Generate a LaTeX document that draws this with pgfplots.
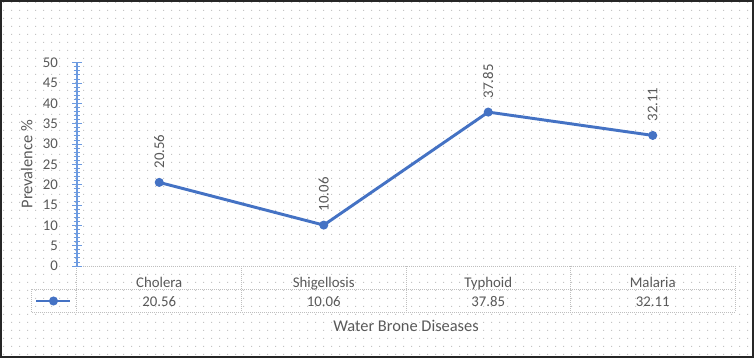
\documentclass[border=0pt]{standalone}
\usepackage{fontspec}
\setmainfont{Carlito}
\usepackage{pgfplots}
\pgfplotsset{compat=1.18}
\usepackage{pgfplotstable}
\usetikzlibrary{patterns.meta}
\definecolor{lineblue}{HTML}{4472C4}
\definecolor{axisblue}{HTML}{6C9AE0}
\definecolor{txtgray}{HTML}{595959}
\definecolor{gridgray}{HTML}{BFBFBF}
\definecolor{dotgray}{HTML}{C4C4C4}
\pgfdeclarepattern{name=exceldots, type=uncolored, bottom left={\pgfpointorigin}, top right={\pgfpoint{5.7pt}{5.7pt}}, tile size={\pgfpoint{5.7pt}{5.7pt}}, code={\pgfpathrectangle{\pgfpoint{2.4pt}{2.4pt}}{\pgfpoint{0.8pt}{0.8pt}}\pgfusepath{fill}}}
\newcommand{\tfont}{\fontsize{11.1}{13}\selectfont}
\newcommand{\lfont}{\fontsize{12.3}{14}\selectfont}
\pgfplotstableread{
x y
0 20.56
1 10.06
2 37.85
3 32.11
}\prevdata
\begin{document}
\begin{tikzpicture}
\path[use as bounding box] (-57.75pt,-69pt) rectangle (507.75pt,199.5pt);
\fill[white] (-57.75pt,-69pt) rectangle (507.75pt,199.5pt);
\fill[pattern=exceldots, pattern color=dotgray] (-57.75pt,-69pt) rectangle (507.75pt,199.5pt);
\begin{scope}[gridgray, line width=0.75pt, dash pattern=on 0.75pt off 0.75pt]
\draw (0pt,0pt) -- (493.5pt,0pt);
\draw (-33.75pt,-17.25pt) -- (493.5pt,-17.25pt);
\draw (-33.75pt,-34.5pt) -- (493.5pt,-34.5pt);
\foreach \x in {0,123.375,246.75,370.125,493.5} \draw (\x pt,0pt) -- (\x pt,-34.5pt);
\draw (-33.75pt,-17.25pt) -- (-33.75pt,-34.5pt);
\end{scope}
\begin{axis}[at={(0pt,0pt)}, anchor=south west, scale only axis,
  width=493.5pt, height=152.5pt,
  xmin=-0.5, xmax=3.5, ymin=0, ymax=50, clip=false,
  axis x line=bottom, axis y line=left,
  axis line style={-},
  x axis line style={draw=none},
  y axis line style={draw=axisblue, line width=0.9pt},
  ytick={0,5,...,50}, minor y tick num=4,
  tick align=center, major tick length=7pt, minor tick length=5pt,
  ytick style={axisblue, line width=0.6pt},
  minor tick style={axisblue, line width=0.5pt},
  xtick={0,1,2,3}, xticklabels={Cholera,Shigellosis,Typhoid,Malaria},
  xtick style={draw=none},
  xticklabel style={anchor=base, yshift=-12.5pt},
  yticklabel style={anchor=east, inner sep=0pt, xshift=-10.7pt},
  tick label style={font=\tfont, text=txtgray},
  /pgf/number format/assume math mode=true,
  xlabel={Water Brone Diseases}, ylabel={Prevalence \%},
  label style={font=\lfont, text=txtgray},
  xlabel style={at={(axis description cs:0.5,-0.323)}, anchor=base},
  ylabel style={at={(axis description cs:-0.0764,0.5)}, anchor=center},
  legend style={at={(axis description cs:-0.0638,-0.1721)}, anchor=west, draw=none, fill=none, inner sep=0pt, outer sep=0pt, nodes={inner sep=0pt}, column sep=0pt},
  legend image code/.code={\draw[mark repeat=2,mark phase=2,#1] plot coordinates {(0pt,0pt)(12.75pt,0pt)(25.5pt,0pt)};},
]
\addplot[lineblue, line width=2.2pt, mark=*, mark size=3pt, mark options={solid, fill=lineblue, line width=0.75pt},
  nodes near coords, point meta=explicit symbolic,
  every node near coord/.append style={rotate=90, anchor=west, inner sep=0pt, outer xsep=10.5pt, font=\tfont, text=txtgray}]
  table[x=x, y=y, meta=y] {\prevdata};
\addlegendentry{\mbox{}}
\addplot[draw=none, mark=none, forget plot, nodes near coords, point meta=explicit symbolic,
  every node near coord/.append style={anchor=base, inner sep=0pt, font=\tfont, text=txtgray}]
  table[x=x, y expr=-9.84, meta=y] {\prevdata};
\end{axis}
\draw[line width=1.5pt, black!85] (-57pt,-68.25pt) rectangle (507pt,198.75pt);
\end{tikzpicture}
\end{document}
